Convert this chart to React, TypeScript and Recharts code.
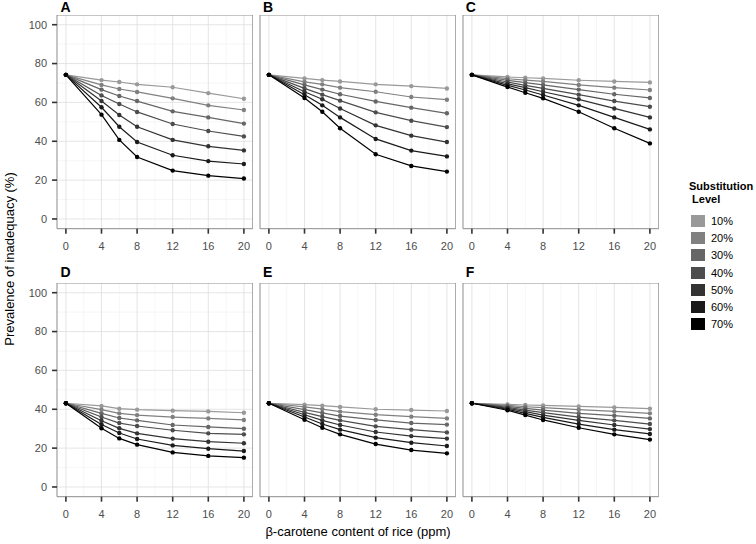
import { LineChart, Line, XAxis, YAxis, CartesianGrid, ReferenceArea } from 'recharts'

const doses = [0, 4, 6, 8, 12, 16, 20]
const levels = ['10%', '20%', '30%', '40%', '50%', '60%', '70%']
const greys = ['#999999', '#808080', '#666666', '#4d4d4d', '#333333', '#1a1a1a', '#000000']
const xTicks = [0, 4, 8, 12, 16, 20]
const xMinor = [2, 6, 10, 14, 18]
const yTicks = [0, 20, 40, 60, 80, 100]
const yMinor = [10, 30, 50, 70, 90]

// one row per substitution level, values at doses 0,4,6,8,12,16,20
const panelA = [
  [74.2, 71.5, 70.5, 69.3, 67.8, 64.8, 61.9],
  [74.2, 69.0, 66.9, 65.4, 62.1, 58.5, 56.1],
  [74.2, 66.6, 63.3, 60.7, 55.4, 52.3, 49.1],
  [74.2, 63.6, 59.2, 55.1, 48.9, 45.3, 42.5],
  [74.2, 60.7, 53.5, 47.5, 40.7, 37.4, 35.3],
  [74.2, 57.5, 47.5, 39.6, 32.8, 29.8, 28.3],
  [74.2, 53.7, 40.7, 31.9, 24.9, 22.3, 20.8],
]
const panelB = [
  [74.2, 72.4, 71.5, 70.8, 69.3, 68.4, 67.2],
  [74.2, 70.6, 69.3, 67.6, 65.5, 62.8, 61.4],
  [74.2, 69.0, 66.6, 64.2, 60.5, 57.3, 54.4],
  [74.2, 67.2, 64.0, 60.9, 54.9, 50.6, 47.3],
  [74.2, 65.5, 61.6, 56.9, 48.2, 42.9, 39.6],
  [74.2, 64.0, 58.5, 52.3, 41.2, 35.2, 32.2],
  [74.2, 62.3, 55.2, 46.7, 33.3, 27.3, 24.4],
]
const panelC = [
  [74.2, 73.1, 72.7, 72.4, 71.4, 70.8, 70.3],
  [74.2, 72.2, 71.5, 70.8, 69.0, 67.6, 66.4],
  [74.2, 71.4, 70.2, 69.0, 66.6, 64.2, 62.3],
  [74.2, 70.5, 68.8, 67.2, 64.0, 60.7, 57.8],
  [74.2, 69.6, 67.6, 65.5, 61.6, 56.9, 52.3],
  [74.2, 68.8, 66.4, 63.8, 58.5, 52.3, 46.1],
  [74.2, 67.9, 65.0, 62.1, 55.2, 46.7, 38.9],
]
const panelD = [
  [43.1, 41.7, 40.3, 39.8, 39.3, 38.9, 38.2],
  [43.1, 39.8, 37.9, 37.0, 36.0, 35.3, 34.5],
  [43.1, 37.9, 35.5, 34.3, 31.9, 30.9, 30.0],
  [43.1, 36.0, 32.9, 31.4, 29.2, 27.6, 27.1],
  [43.1, 34.1, 30.2, 27.6, 24.9, 23.3, 22.5],
  [43.1, 32.2, 27.8, 24.7, 21.4, 19.7, 18.5],
  [43.1, 30.2, 25.0, 21.8, 17.8, 16.0, 15.1],
]
const panelE = [
  [43.1, 42.4, 41.9, 41.2, 40.0, 39.6, 39.1],
  [43.1, 41.2, 40.1, 38.8, 37.2, 36.2, 35.3],
  [43.1, 39.8, 38.1, 36.5, 34.5, 32.9, 32.1],
  [43.1, 38.4, 36.2, 34.3, 31.2, 29.5, 28.1],
  [43.1, 37.2, 34.3, 31.9, 28.3, 26.2, 24.9],
  [43.1, 36.0, 32.4, 29.5, 25.4, 22.8, 21.1],
  [43.1, 34.6, 30.5, 27.1, 22.1, 19.0, 17.3],
]
const panelF = [
  [43.1, 42.5, 42.2, 42.0, 41.5, 41.0, 40.3],
  [43.1, 42.0, 41.3, 40.8, 39.8, 38.9, 37.9],
  [43.1, 41.5, 40.5, 39.6, 37.9, 36.7, 35.3],
  [43.1, 41.0, 39.6, 38.3, 36.0, 34.3, 32.4],
  [43.1, 40.5, 38.8, 37.0, 34.3, 31.9, 29.8],
  [43.1, 40.0, 37.9, 35.8, 32.4, 29.5, 27.3],
  [43.1, 39.5, 37.0, 34.5, 30.5, 27.1, 24.4],
]

const FONT = '"Liberation Sans", Arial, Helvetica, sans-serif'
const AXIS_W = 58
const PLOT_W = 195.8
const PLOT_H = 213.7
const XAXIS_H = 32
const COLS = [57.4, 260.1, 462.8]
const ROWS = [15.3, 282.6]
const TITLE_TOPS = [0, 265]

const toRows = (series: number[][]) =>
  doses.map((d, i) => {
    const row: Record<string, number> = { dose: d }
    series.forEach((s, j) => {
      row[levels[j]] = s[i]
    })
    return row
  })

const tickStyle = { fontSize: 11, fill: '#4d4d4d', fontFamily: FONT }

function Panel({ label, series, col, row }: { label: string; series: number[][]; col: number; row: number }) {
  const left = COLS[col]
  const top = ROWS[row]
  const showY = col === 0
  return (
    <>
      <div
        style={{
          position: 'absolute',
          left: left + 3,
          top: TITLE_TOPS[row],
          fontSize: 14,
          lineHeight: '14px',
          fontWeight: 'bold',
          fontFamily: FONT,
        }}
      >
        {label}
      </div>
      <div style={{ position: 'absolute', left: left - AXIS_W, top }}>
        <LineChart
          width={AXIS_W + PLOT_W}
          height={PLOT_H + XAXIS_H}
          data={toRows(series)}
          margin={{ top: 0, right: 0, bottom: 0, left: 0 }}
        >
          <CartesianGrid
            stroke="#f0f0f0"
            strokeWidth={0.6}
            verticalValues={xMinor}
            horizontalValues={yMinor}
          />
          <CartesianGrid
            stroke="#dedede"
            strokeWidth={0.8}
            verticalValues={xTicks}
            horizontalValues={yTicks}
          />
          <XAxis
            type="number"
            dataKey="dose"
            domain={[-1, 21]}
            ticks={xTicks}
            allowDataOverflow
            height={XAXIS_H}
            axisLine={false}
            tickSize={5}
            tickMargin={9}
            tickLine={{ stroke: '#333333', strokeWidth: 1.6 }}
            tick={tickStyle}
          />
          <YAxis
            type="number"
            domain={[-5, 105]}
            ticks={yTicks}
            allowDataOverflow
            width={AXIS_W}
            axisLine={false}
            tickSize={5}
            tickMargin={5}
            tickLine={showY ? { stroke: '#333333', strokeWidth: 1.6 } : false}
            tick={showY ? tickStyle : false}
          />
          <ReferenceArea x1={-1} x2={21} y1={-5} y2={105} fill="none" stroke="#8c8c8c" strokeWidth={1} />
          {levels.map((lv, j) => (
            <Line
              key={lv}
              dataKey={lv}
              stroke={greys[j]}
              strokeWidth={1.2}
              dot={{ r: 2.2, fill: greys[j], stroke: greys[j], strokeWidth: 0 }}
              isAnimationActive={false}
            />
          ))}
        </LineChart>
      </div>
    </>
  )
}

export default function App() {
  return (
    <div
      style={{
        position: 'absolute',
        left: 0,
        top: 0,
        width: 756,
        height: 544,
        background: '#fff',
        fontFamily: FONT,
        overflow: 'hidden',
      }}
    >
      <Panel label="A" series={panelA} col={0} row={0} />
      <Panel label="B" series={panelB} col={1} row={0} />
      <Panel label="C" series={panelC} col={2} row={0} />
      <Panel label="D" series={panelD} col={0} row={1} />
      <Panel label="E" series={panelE} col={1} row={1} />
      <Panel label="F" series={panelF} col={2} row={1} />

      <div
        style={{
          position: 'absolute',
          left: 10 - 120,
          top: 259 - 8,
          width: 240,
          textAlign: 'center',
          fontSize: 13,
          lineHeight: '16px',
          transform: 'rotate(-90deg)',
          color: '#000',
        }}
      >
        Prevalence of inadequacy (%)
      </div>
      <div
        style={{
          position: 'absolute',
          left: 358 - 150,
          top: 532 - 8,
          width: 300,
          textAlign: 'center',
          fontSize: 13,
          lineHeight: '16px',
          color: '#000',
        }}
      >
        β-carotene content of rice (ppm)
      </div>

      <div style={{ position: 'absolute', left: 689, top: 180, fontSize: 11, lineHeight: '13px', fontWeight: 'bold' }}>
        Substitution
        <br />
        &nbsp;Level
      </div>
      {levels.map((lv, j) => (
        <div key={lv} style={{ position: 'absolute', left: 691, top: 215 + j * 17.2, height: 12, display: 'flex', alignItems: 'center' }}>
          <div style={{ width: 14, height: 12, background: greys[j] }} />
          <span style={{ marginLeft: 6, fontSize: 11, lineHeight: '12px' }}>{lv}</span>
        </div>
      ))}
    </div>
  )
}
